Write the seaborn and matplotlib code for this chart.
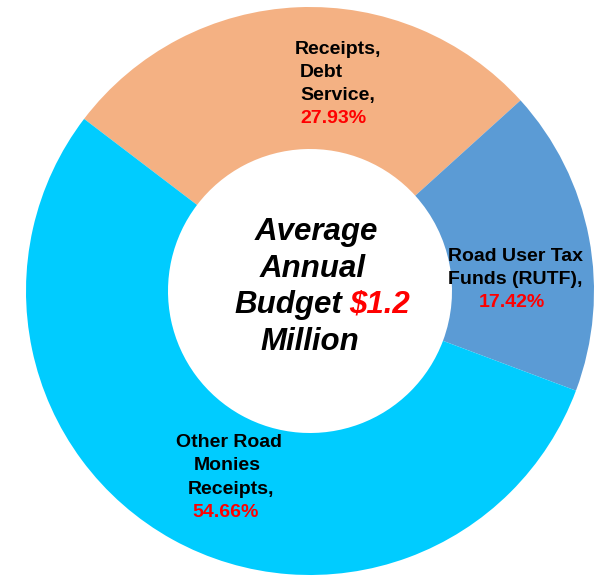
import matplotlib
matplotlib.use("Agg")
import matplotlib.pyplot as plt
import seaborn as sns

# Budget shares (percent), in drawing order (clockwise from the upper-left boundary)
categories = ["Receipts, Debt Service", "Road User Tax Funds (RUTF)", "Other Road Monies Receipts"]
shares = [27.93, 17.42, 54.66]
label_lines = [
    ["Receipts,", "Debt", "Service,"],
    ["Road User Tax", "Funds (RUTF),"],
    ["Other Road", "Monies", "Receipts,"],
]
center_title = ["Average", "Annual", "Budget", "Million"]
budget_text = "$1.2"

sns.set_theme(style="white")
plt.rcParams["font.family"] = ["Liberation Sans", "DejaVu Sans"]

colors = sns.color_palette(["#F4B183", "#5B9BD5", "#00CCFF"])

W, H = 610, 576
CX, CY, R = 310, 291, 284  # pixel centre (from top) and outer radius

fig = plt.figure(figsize=(W / 100, H / 100), dpi=100)
ax = fig.add_axes([(CX - R) / W, (H - CY - R) / H, 2 * R / W, 2 * R / H])
ax.pie(shares, colors=colors, startangle=142.7, counterclock=False,
       radius=1.0, wedgeprops=dict(width=0.5, linewidth=0))
ax.set_xlim(-1, 1)
ax.set_ylim(-1, 1)
ax.set_aspect("equal")
ax.axis("off")


def px(x, y):
    """Pixel position (from top-left of the figure) to data coordinates."""
    return (x - CX) / R, (CY - y) / R


def put(x, y, s, color="black", size=14, style="normal", ha="center"):
    dx, dy = px(x, y)
    ax.text(dx, dy, s, color=color, fontsize=size, fontweight="bold",
            fontstyle=style, ha=ha, va="baseline")


# Slice labels: name lines in black, percentage in red
line_pos = [
    [(338, 54), (321, 77), (338, 100)],
    [(516, 261), (515, 284)],
    [(229, 447), (227, 470), (231, 494)],
]
pct_pos = [(333, 123), (512, 307), (226, 517)]
for lines, poss, val, ppos in zip(label_lines, line_pos, shares, pct_pos):
    for s, (x, y) in zip(lines, poss):
        put(x, y, s)
    put(ppos[0], ppos[1], f"{val:.2f}%", color="red")

# Centre title
put(316, 240, center_title[0], size=22.5, style="italic")
put(313, 277, center_title[1], size=22.5, style="italic")
put(342, 313, center_title[2], size=22.5, style="italic", ha="right")
put(349, 313, budget_text, color="red", size=22.5, style="italic", ha="left")
put(310, 350, center_title[3], size=22.5, style="italic")

fig.savefig("out.png", dpi=100)
